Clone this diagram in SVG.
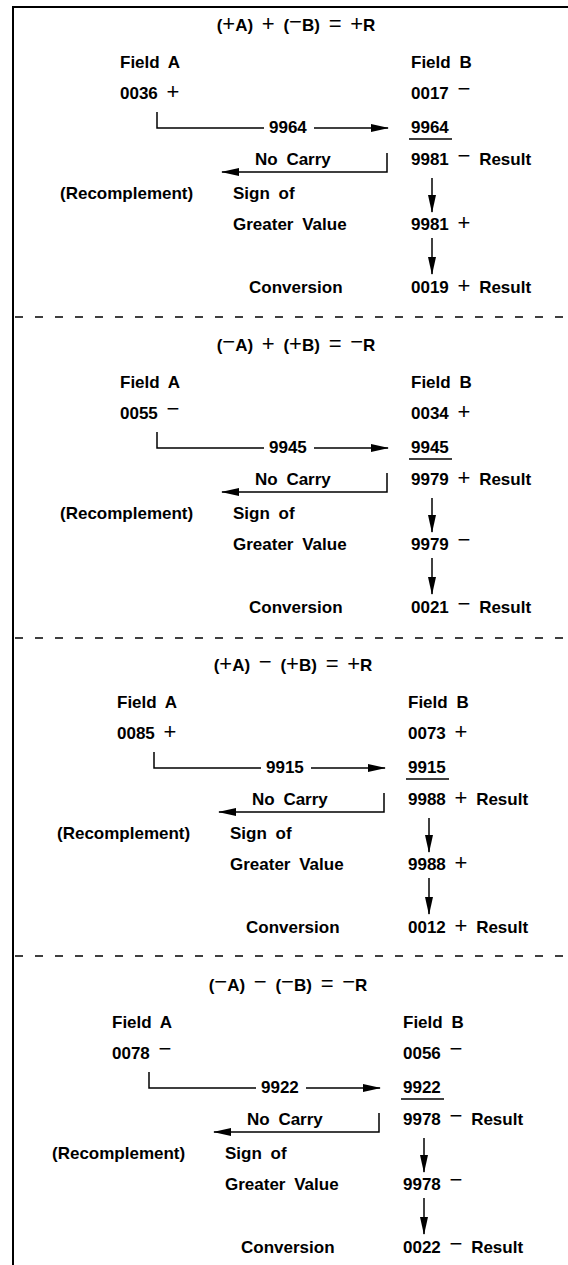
<svg xmlns="http://www.w3.org/2000/svg" width="568" height="1265" viewBox="0 0 568 1265">
<style>
  .t { font-family: "Liberation Sans", Arial, sans-serif; font-size: 17px; font-weight: bold; fill: #000; word-spacing: 4px; }
  .s { font-family: "Liberation Sans", Arial, sans-serif; font-weight: normal; font-size: 22px; }
  .ln { stroke: #000; stroke-width: 1.5; fill: none; }
  .ar { stroke: #000; stroke-width: 1.5; fill: none; marker-end: url(#ah); }
  .frame { stroke: #000; stroke-width: 2; fill: none; }
  .dash { stroke: #000; stroke-width: 1.5; stroke-dasharray: 8 12; fill: none; }
</style>
<defs>
  <marker id="ah" viewBox="0 0 18 8" refX="17" refY="4" markerWidth="18" markerHeight="8" markerUnits="userSpaceOnUse" orient="auto">
    <path d="M0,0 L18,4 L0,8 Z" fill="#000"/>
  </marker>
</defs>
<rect x="0" y="0" width="568" height="1265" fill="#fff"/>
<g id="frame">
  <path class="frame" d="M13,1265 V7 H568"/>
  <line class="dash" x1="15" y1="317" x2="568" y2="317"/>
  <line class="dash" x1="15" y1="638" x2="568" y2="638"/>
  <line class="dash" x1="15" y1="956" x2="568" y2="956"/>
</g>

<!-- Panel 1 -->
<g id="panel1">
  <g id="p1-title"><text class="t" x="296" y="31" text-anchor="middle" word-spacing="0">(<tspan class="s">+</tspan>A) <tspan class="s">+</tspan> (<tspan class="s" dy="-2">−</tspan><tspan dy="2">B)</tspan> <tspan class="s">=</tspan> <tspan class="s">+</tspan>R</text></g>
  <g id="p1-fieldA"><text class="t" x="120" y="68">Field A</text><text class="t" x="120" y="99">0036 <tspan class="s">+</tspan></text></g>
  <g id="p1-fieldB"><text class="t" x="411" y="68">Field B</text><text class="t" x="411" y="99">0017 <tspan class="s" dy="-3">−</tspan></text></g>
  <g id="p1-comp"><text class="t" x="269" y="133">9964</text></g>
  <g id="p1-sum"><text class="t" x="411" y="133">9964</text><line class="ln" x1="409" y1="139" x2="452" y2="139"/></g>
  <g id="p1-nocarry"><text class="t" x="255" y="165">No Carry</text></g>
  <g id="p1-result1"><text class="t" x="411" y="165">9981 <tspan class="s" dy="-2">−</tspan><tspan dy="2"> Result</tspan></text></g>
  <g id="p1-recomp"><text class="t" x="60" y="199">(Recomplement)</text></g>
  <g id="p1-sign"><text class="t" x="233" y="199">Sign of</text><text class="t" x="233" y="230">Greater Value</text></g>
  <g id="p1-result2"><text class="t" x="411" y="230">9981 <tspan class="s">+</tspan></text></g>
  <g id="p1-conv"><text class="t" x="249" y="293">Conversion</text></g>
  <g id="p1-result3"><text class="t" x="411" y="293">0019 <tspan class="s">+</tspan> Result</text></g>
  <g id="p1-connectors">
    <polyline class="ln" points="157,112 157,128 264,128"/>
    <line class="ar" x1="314" y1="128" x2="388" y2="128"/>
    <polyline class="ar" points="387,153 387,172 222,172"/>
    <line class="ar" x1="432" y1="178" x2="432" y2="212"/>
    <line class="ar" x1="432" y1="238" x2="432" y2="274"/>
  </g>
</g>

<!-- Panel 2 -->
<g id="panel2" transform="translate(0,320)">
  <g id="p2-title"><text class="t" x="296" y="31" text-anchor="middle" word-spacing="0">(<tspan class="s" dy="-2">−</tspan><tspan dy="2">A)</tspan> <tspan class="s">+</tspan> (<tspan class="s">+</tspan>B) <tspan class="s">=</tspan> <tspan class="s" dy="-2">−</tspan><tspan dy="2">R</tspan></text></g>
  <g id="p2-fieldA"><text class="t" x="120" y="68">Field A</text><text class="t" x="120" y="99">0055 <tspan class="s" dy="-3">−</tspan></text></g>
  <g id="p2-fieldB"><text class="t" x="411" y="68">Field B</text><text class="t" x="411" y="99">0034 <tspan class="s">+</tspan></text></g>
  <g id="p2-comp"><text class="t" x="269" y="133">9945</text></g>
  <g id="p2-sum"><text class="t" x="411" y="133">9945</text><line class="ln" x1="409" y1="139" x2="452" y2="139"/></g>
  <g id="p2-nocarry"><text class="t" x="255" y="165">No Carry</text></g>
  <g id="p2-result1"><text class="t" x="411" y="165">9979 <tspan class="s">+</tspan> Result</text></g>
  <g id="p2-recomp"><text class="t" x="60" y="199">(Recomplement)</text></g>
  <g id="p2-sign"><text class="t" x="233" y="199">Sign of</text><text class="t" x="233" y="230">Greater Value</text></g>
  <g id="p2-result2"><text class="t" x="411" y="230">9979 <tspan class="s" dy="-3">−</tspan></text></g>
  <g id="p2-conv"><text class="t" x="249" y="293">Conversion</text></g>
  <g id="p2-result3"><text class="t" x="411" y="293">0021 <tspan class="s" dy="-2">−</tspan><tspan dy="2"> Result</tspan></text></g>
  <g id="p2-connectors">
    <polyline class="ln" points="157,112 157,128 264,128"/>
    <line class="ar" x1="314" y1="128" x2="388" y2="128"/>
    <polyline class="ar" points="387,153 387,172 222,172"/>
    <line class="ar" x1="432" y1="178" x2="432" y2="212"/>
    <line class="ar" x1="432" y1="238" x2="432" y2="274"/>
  </g>
</g>

<!-- Panel 3 -->
<g id="panel3" transform="translate(-3,640)">
  <g id="p3-title"><text class="t" x="296" y="31" text-anchor="middle" word-spacing="0">(<tspan class="s">+</tspan>A) <tspan class="s" dy="-2">−</tspan><tspan dy="2"> (</tspan><tspan class="s">+</tspan>B) <tspan class="s">=</tspan> <tspan class="s">+</tspan>R</text></g>
  <g id="p3-fieldA"><text class="t" x="120" y="68">Field A</text><text class="t" x="120" y="99">0085 <tspan class="s">+</tspan></text></g>
  <g id="p3-fieldB"><text class="t" x="411" y="68">Field B</text><text class="t" x="411" y="99">0073 <tspan class="s">+</tspan></text></g>
  <g id="p3-comp"><text class="t" x="269" y="133">9915</text></g>
  <g id="p3-sum"><text class="t" x="411" y="133">9915</text><line class="ln" x1="409" y1="139" x2="452" y2="139"/></g>
  <g id="p3-nocarry"><text class="t" x="255" y="165">No Carry</text></g>
  <g id="p3-result1"><text class="t" x="411" y="165">9988 <tspan class="s">+</tspan> Result</text></g>
  <g id="p3-recomp"><text class="t" x="60" y="199">(Recomplement)</text></g>
  <g id="p3-sign"><text class="t" x="233" y="199">Sign of</text><text class="t" x="233" y="230">Greater Value</text></g>
  <g id="p3-result2"><text class="t" x="411" y="230">9988 <tspan class="s">+</tspan></text></g>
  <g id="p3-conv"><text class="t" x="249" y="293">Conversion</text></g>
  <g id="p3-result3"><text class="t" x="411" y="293">0012 <tspan class="s">+</tspan> Result</text></g>
  <g id="p3-connectors">
    <polyline class="ln" points="157,112 157,128 264,128"/>
    <line class="ar" x1="314" y1="128" x2="388" y2="128"/>
    <polyline class="ar" points="387,153 387,172 222,172"/>
    <line class="ar" x1="432" y1="178" x2="432" y2="212"/>
    <line class="ar" x1="432" y1="238" x2="432" y2="274"/>
  </g>
</g>

<!-- Panel 4 -->
<g id="panel4" transform="translate(-8,960)">
  <g id="p4-title"><text class="t" x="296" y="31" text-anchor="middle" word-spacing="0">(<tspan class="s" dy="-2">−</tspan><tspan dy="2">A)</tspan> <tspan class="s" dy="-2">−</tspan><tspan dy="2"> (</tspan><tspan class="s" dy="-2">−</tspan><tspan dy="2">B)</tspan> <tspan class="s">=</tspan> <tspan class="s" dy="-2">−</tspan><tspan dy="2">R</tspan></text></g>
  <g id="p4-fieldA"><text class="t" x="120" y="68">Field A</text><text class="t" x="120" y="99">0078 <tspan class="s" dy="-3">−</tspan></text></g>
  <g id="p4-fieldB"><text class="t" x="411" y="68">Field B</text><text class="t" x="411" y="99">0056 <tspan class="s" dy="-3">−</tspan></text></g>
  <g id="p4-comp"><text class="t" x="269" y="133">9922</text></g>
  <g id="p4-sum"><text class="t" x="411" y="133">9922</text><line class="ln" x1="409" y1="139" x2="452" y2="139"/></g>
  <g id="p4-nocarry"><text class="t" x="255" y="165">No Carry</text></g>
  <g id="p4-result1"><text class="t" x="411" y="165">9978 <tspan class="s" dy="-2">−</tspan><tspan dy="2"> Result</tspan></text></g>
  <g id="p4-recomp"><text class="t" x="60" y="199">(Recomplement)</text></g>
  <g id="p4-sign"><text class="t" x="233" y="199">Sign of</text><text class="t" x="233" y="230">Greater Value</text></g>
  <g id="p4-result2"><text class="t" x="411" y="230">9978 <tspan class="s" dy="-3">−</tspan></text></g>
  <g id="p4-conv"><text class="t" x="249" y="293">Conversion</text></g>
  <g id="p4-result3"><text class="t" x="411" y="293">0022 <tspan class="s" dy="-2">−</tspan><tspan dy="2"> Result</tspan></text></g>
  <g id="p4-connectors">
    <polyline class="ln" points="157,112 157,128 264,128"/>
    <line class="ar" x1="314" y1="128" x2="388" y2="128"/>
    <polyline class="ar" points="387,153 387,172 222,172"/>
    <line class="ar" x1="432" y1="178" x2="432" y2="212"/>
    <line class="ar" x1="432" y1="238" x2="432" y2="274"/>
  </g>
</g>
</svg>
